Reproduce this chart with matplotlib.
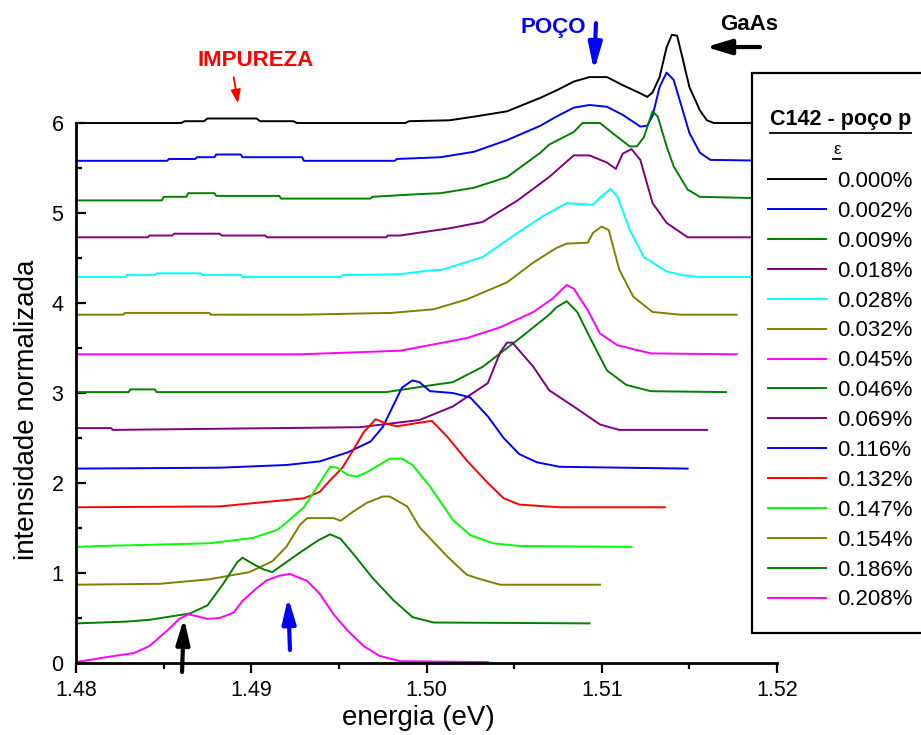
import matplotlib
matplotlib.use("Agg")
import matplotlib.pyplot as plt
from matplotlib.lines import Line2D
from matplotlib.patches import Rectangle
from matplotlib.ticker import MultipleLocator

plt.rcParams['font.family'] = ['Liberation Sans', 'DejaVu Sans']

labels = ['0.000%', '0.002%', '0.009%', '0.018%', '0.028%', '0.032%', '0.045%', '0.046%',
          '0.069%', '0.116%', '0.132%', '0.147%', '0.154%', '0.186%', '0.208%']
colors = ['#000000', '#0000FF', '#008000', '#800080', '#00FFFF', '#808000', '#FF00FF', '#008000',
          '#800080', '#0000FF', '#FF0000', '#00FF00', '#808000', '#008000', '#FF00FF']
offsets = [6.00, 5.58, 5.16, 4.73, 4.29, 3.87, 3.43, 3.01, 2.59, 2.16, 1.73, 1.29, 0.87, 0.44, 0.00]

x0 = [1.4800, 1.4860, 1.4862, 1.4873, 1.4875, 1.4903, 1.4905, 1.4924, 1.4926, 1.4988, 1.4990, 1.5013,
      1.5027, 1.5046, 1.5065, 1.5075, 1.5084, 1.5093, 1.5103, 1.5112, 1.5122, 1.5126, 1.5129, 1.5133,
      1.5137, 1.5140, 1.5143, 1.5146, 1.5150, 1.5156, 1.5160, 1.5164, 1.5200]
h0 = [0, 0, 0.02, 0.02, 0.05, 0.05, 0.02, 0.02, 0, 0, 0.02, 0.03,
      0.07, 0.13, 0.28, 0.37, 0.46, 0.51, 0.51, 0.42, 0.33, 0.29, 0.34, 0.51,
      0.84, 0.98, 0.97, 0.73, 0.40, 0.14, 0.03, 0, 0]

x1 = [1.4800, 1.4852, 1.4853, 1.4868, 1.4869, 1.4879, 1.4880, 1.4894, 1.4895, 1.4929, 1.4930, 1.4982,
      1.4983, 1.5008, 1.5027, 1.5046, 1.5065, 1.5074, 1.5084, 1.5093, 1.5103, 1.5112, 1.5122, 1.5126,
      1.5129, 1.5133, 1.5137, 1.5141, 1.5145, 1.5150, 1.5156, 1.5162, 1.5200]
h1 = [0, 0, 0.02, 0.02, 0.04, 0.04, 0.07, 0.07, 0.04, 0.04, 0, 0,
      0.02, 0.04, 0.10, 0.23, 0.39, 0.49, 0.59, 0.62, 0.60, 0.51, 0.38, 0.39,
      0.50, 0.82, 0.98, 0.90, 0.64, 0.31, 0.09, 0.01, 0]

x2 = [1.4800, 1.4849, 1.4850, 1.4863, 1.4864, 1.4879, 1.4880, 1.4916, 1.4917, 1.4968, 1.4969, 1.4996,
      1.5008, 1.5027, 1.5046, 1.5065, 1.5070, 1.5084, 1.5089, 1.5099, 1.5106, 1.5116, 1.5120, 1.5124,
      1.5129, 1.5132, 1.5137, 1.5141, 1.5149, 1.5156, 1.5200]
h2 = [-0.02, -0.02, 0.02, 0.02, 0.06, 0.06, 0.03, 0.03, 0, 0, 0.02, 0.05,
      0.06, 0.12, 0.24, 0.51, 0.60, 0.74, 0.84, 0.84, 0.73, 0.58, 0.58, 0.68,
      0.97, 0.91, 0.58, 0.36, 0.10, 0.02, 0]

x3 = [1.4800, 1.4841, 1.4842, 1.4855, 1.4856, 1.4882, 1.4883, 1.4908, 1.4909, 1.4977, 1.4978, 1.4985,
      1.5013, 1.5032, 1.5052, 1.5070, 1.5084, 1.5093, 1.5103, 1.5108, 1.5112, 1.5117, 1.5122, 1.5129,
      1.5137, 1.5143, 1.5149, 1.5200]
h3 = [0, 0, 0.02, 0.02, 0.04, 0.04, 0.02, 0.02, 0, 0, 0.02, 0.02,
      0.10, 0.17, 0.41, 0.67, 0.91, 0.91, 0.83, 0.76, 0.93, 0.98, 0.86, 0.38,
      0.16, 0.08, 0, 0]

x4 = [1.4800, 1.4828, 1.4829, 1.4845, 1.4846, 1.4871, 1.4872, 1.4894, 1.4895, 1.4951, 1.4952, 1.4985,
      1.5001, 1.5009, 1.5032, 1.5052, 1.5066, 1.5080, 1.5095, 1.5099, 1.5105, 1.5109, 1.5116, 1.5124,
      1.5137, 1.5146, 1.5155, 1.5200]
h4 = [0, 0, 0.02, 0.02, 0.04, 0.04, 0.02, 0.02, 0, 0, 0.02, 0.03,
      0.07, 0.08, 0.22, 0.49, 0.67, 0.82, 0.80, 0.88, 0.98, 0.89, 0.52, 0.22,
      0.06, 0.02, 0, 0]

x5 = [1.4800, 1.4827, 1.4828, 1.4876, 1.4877, 1.4928, 1.4980, 1.5004, 1.5023, 1.5046, 1.5061, 1.5074,
      1.5080, 1.5092, 1.5095, 1.5100, 1.5104, 1.5110, 1.5118, 1.5129, 1.5145, 1.5177]
h5 = [0, 0, 0.02, 0.02, 0, 0, 0.02, 0.06, 0.17, 0.36, 0.58, 0.74,
      0.79, 0.80, 0.91, 0.98, 0.94, 0.50, 0.20, 0.03, 0, 0]

x6 = [1.4800, 1.4928, 1.4985, 1.5023, 1.5042, 1.5061, 1.5072, 1.5080, 1.5084, 1.5092, 1.5099, 1.5109,
      1.5128, 1.5177]
h6 = [0, 0, 0.04, 0.18, 0.30, 0.47, 0.62, 0.77, 0.73, 0.49, 0.23, 0.10,
      0.01, 0]

x7 = [1.4800, 1.4830, 1.4831, 1.4845, 1.4846, 1.4977, 1.5004, 1.5015, 1.5032, 1.5052, 1.5070, 1.5074,
      1.5080, 1.5086, 1.5095, 1.5103, 1.5114, 1.5128, 1.5171]
h7 = [0, 0, 0.03, 0.03, 0, 0, 0.08, 0.11, 0.28, 0.58, 0.86, 0.94,
      1.01, 0.89, 0.54, 0.24, 0.08, 0.01, 0]

x8 = [1.4800, 1.4820, 1.4821, 1.4962, 1.4996, 1.5015, 1.5035, 1.5042, 1.5046, 1.5049, 1.5061, 1.5070,
      1.5084, 1.5099, 1.5110, 1.5160]
h8 = [0.02, 0.02, 0, 0.03, 0.11, 0.26, 0.52, 0.86, 0.97, 0.97, 0.70, 0.44,
      0.26, 0.06, 0, 0]

x9 = [1.4800, 1.4882, 1.4920, 1.4939, 1.4955, 1.4968, 1.4975, 1.4979, 1.4986, 1.4992, 1.4996, 1.5002,
      1.5015, 1.5025, 1.5035, 1.5044, 1.5053, 1.5063, 1.5076, 1.5149]
h9 = [0, 0.01, 0.04, 0.08, 0.18, 0.30, 0.46, 0.62, 0.90, 0.98, 0.96, 0.86,
      0.84, 0.79, 0.58, 0.34, 0.16, 0.07, 0.02, 0]

x10 = [1.4800, 1.4882, 1.4930, 1.4939, 1.4945, 1.4952, 1.4958, 1.4964, 1.4971, 1.4977, 1.4983, 1.4996,
       1.5003, 1.5012, 1.5023, 1.5035, 1.5044, 1.5053, 1.5076, 1.5136]
h10 = [0, 0.01, 0.10, 0.17, 0.30, 0.44, 0.63, 0.83, 0.98, 0.93, 0.90, 0.94,
       0.96, 0.78, 0.52, 0.27, 0.10, 0.03, 0, 0]

x11 = [1.4800, 1.4814, 1.4876, 1.4901, 1.4915, 1.4920, 1.4930, 1.4939, 1.4945, 1.4949, 1.4955, 1.4960,
       1.4966, 1.4973, 1.4979, 1.4986, 1.4992, 1.5002, 1.5015, 1.5025, 1.5038, 1.5053, 1.5117]
h11 = [0, 0.01, 0.04, 0.10, 0.19, 0.27, 0.44, 0.71, 0.89, 0.88, 0.80, 0.78,
       0.83, 0.91, 0.98, 0.98, 0.91, 0.67, 0.30, 0.13, 0.04, 0.01, 0]

x12 = [1.4800, 1.4848, 1.4876, 1.4899, 1.4912, 1.4920, 1.4928, 1.4932, 1.4947, 1.4951, 1.4958, 1.4966,
       1.4975, 1.4979, 1.4989, 1.4996, 1.5012, 1.5023, 1.5031, 1.5042, 1.5099]
h12 = [0, 0.01, 0.06, 0.14, 0.26, 0.42, 0.67, 0.74, 0.74, 0.71, 0.81, 0.91,
       0.98, 0.98, 0.87, 0.64, 0.31, 0.11, 0.06, 0, 0]

x13 = [1.4800, 1.4829, 1.4842, 1.4855, 1.4865, 1.4875, 1.4884, 1.4892, 1.4895, 1.4901, 1.4907, 1.4912,
       1.4920, 1.4928, 1.4938, 1.4945, 1.4951, 1.4960, 1.4969, 1.4981, 1.4992, 1.5004, 1.5093]
h13 = [0, 0.02, 0.04, 0.08, 0.11, 0.20, 0.44, 0.68, 0.73, 0.66, 0.60, 0.57,
       0.68, 0.79, 0.92, 0.99, 0.94, 0.73, 0.51, 0.26, 0.07, 0.01, 0]

x14 = [1.4800, 1.4819, 1.4833, 1.4842, 1.4852, 1.4859, 1.4864, 1.4869, 1.4875, 1.4882, 1.4890, 1.4895,
       1.4903, 1.4909, 1.4916, 1.4922, 1.4932, 1.4939, 1.4947, 1.4955, 1.4964, 1.4973, 1.4985, 1.5035]
h14 = [0.01, 0.07, 0.11, 0.19, 0.36, 0.49, 0.54, 0.52, 0.49, 0.50, 0.56, 0.69,
       0.83, 0.92, 0.97, 0.99, 0.91, 0.77, 0.54, 0.36, 0.19, 0.08, 0.02, 0.01]

energies = [x0, x1, x2, x3, x4, x5, x6, x7, x8, x9, x10, x11, x12, x13, x14]
heights = [h0, h1, h2, h3, h4, h5, h6, h7, h8, h9, h10, h11, h12, h13, h14]

W, H = 921, 735
def fx(px):
    return px / W
def fy(py):
    return 1 - py / H

fig = plt.figure(figsize=(W / 100, H / 100), dpi=100)
ax = fig.add_axes([fx(76), fy(663), (777 - 76) / W, (663 - 123) / H])

handles = []
for xs, hs, off, c, lab in zip(energies, heights, offsets, colors, labels):
    ln, = ax.plot(xs, [off + h for h in hs], color=c, lw=1.4, clip_on=False,
                  solid_joinstyle='round', label=lab)
    handles.append(ln)

ax.set_xlim(1.48, 1.52)
ax.set_ylim(0, 6)
ax.xaxis.set_major_locator(MultipleLocator(0.01))
ax.xaxis.set_minor_locator(MultipleLocator(0.005))
ax.yaxis.set_major_locator(MultipleLocator(1))
ax.yaxis.set_minor_locator(MultipleLocator(0.5))
ax.set_xticks([1.48, 1.49, 1.50, 1.51, 1.52])
ax.set_xticklabels(['1.48', '1.49', '1.50', '1.51', '1.52'])
for s in ['top', 'right']:
    ax.spines[s].set_visible(False)
for s in ['left', 'bottom']:
    ax.spines[s].set_linewidth(2)
ax.tick_params(axis='x', which='major', direction='out', length=7, width=1.6, labelsize=15.5, pad=5)
ax.tick_params(axis='x', which='minor', direction='out', length=4.5, width=1.6)
ax.tick_params(axis='y', which='major', direction='in', length=7, width=1.6, labelsize=15.5, pad=9)
ax.tick_params(axis='y', which='minor', direction='in', length=4.5, width=1.6)

ax.set_xlabel('energia (eV)', fontsize=20)
ax.set_ylabel('intensidade normalizada', fontsize=20)
ax.xaxis.label.set_va('center')
ax.xaxis.set_label_coords((418 - 76) / 701, (663 - 718) / 540)
ax.yaxis.label.set_va('center')
ax.yaxis.set_label_coords((27 - 76) / 701, (663 - 410) / 540)

# annotations
ax.text(1.49027, 6.70, 'IMPUREZA', color='#FF0000', fontsize=16, fontweight='bold',
        ha='center', va='center', clip_on=False)
ax.annotate('', xy=(1.48924, 6.22), xytext=(1.4890, 6.51), annotation_clip=False,
            arrowprops=dict(arrowstyle='-|>,head_length=0.8,head_width=0.3', mutation_scale=10,
                            color='#FF0000', lw=1.3, shrinkA=0, shrinkB=0))
ax.text(1.50722, 7.06, 'POÇO', color='#0000FF', fontsize=16, fontweight='bold',
        ha='center', va='center', clip_on=False)
ax.annotate('', xy=(1.50956, 6.58), xytext=(1.50967, 7.11), annotation_clip=False,
            arrowprops=dict(arrowstyle='-|>,head_length=1.6,head_width=0.4', mutation_scale=10,
                            color='#0000FF', lw=3, shrinkA=0, shrinkB=0))
ax.text(1.5184, 7.09, 'GaAs', color='black', fontsize=16, fontweight='bold',
        ha='center', va='center', clip_on=False)
ax.annotate('', xy=(1.51595, 6.844), xytext=(1.51903, 6.844), annotation_clip=False,
            arrowprops=dict(arrowstyle='-|>,head_length=1.5,head_width=0.45', mutation_scale=10,
                            color='black', lw=3, shrinkA=0, shrinkB=0))
ax.annotate('', xy=(1.48616, 0.50), xytext=(1.48605, -0.10), annotation_clip=False,
            arrowprops=dict(arrowstyle='-|>,head_length=1.5,head_width=0.4', mutation_scale=10,
                            color='black', lw=3, shrinkA=0, shrinkB=0))
ax.annotate('', xy=(1.4921, 0.73), xytext=(1.49221, 0.144), annotation_clip=False,
            arrowprops=dict(arrowstyle='-|>,head_length=1.5,head_width=0.4', mutation_scale=10,
                            color='#0000FF', lw=3, shrinkA=0, shrinkB=0))

# legend box
box = Rectangle((fx(752), fy(633)), 0.3, (633 - 73) / H, transform=fig.transFigure,
                facecolor='white', edgecolor='black', lw=1.6, zorder=4)
fig.add_artist(box)
leg = fig.legend(handles, labels, loc='upper left', bbox_to_anchor=(fx(768), fy(171)),
                 frameon=False, fontsize=16, handlelength=2.6, handletextpad=0.5,
                 labelspacing=0.40, borderpad=0, borderaxespad=0)
leg.set_zorder(6)

t1 = fig.text(fx(770), fy(125), 'C142 - poço p', fontsize=15.5, fontweight='bold',
              ha='left', va='baseline', zorder=6)
t2 = fig.text(fx(837), fy(150), 'ε', fontsize=12, ha='center', va='center', zorder=6)

fig.canvas.draw()
r = fig.canvas.get_renderer()
for t, gap in [(t1, 3), (t2, 1)]:
    bb = t.get_window_extent(r)
    yline = bb.y0 - gap
    fig.add_artist(Line2D([bb.x0 / W, bb.x1 / W], [yline / H, yline / H], transform=fig.transFigure,
                          color='black', lw=1.3, zorder=6))

fig.savefig('out.png', dpi=100)
